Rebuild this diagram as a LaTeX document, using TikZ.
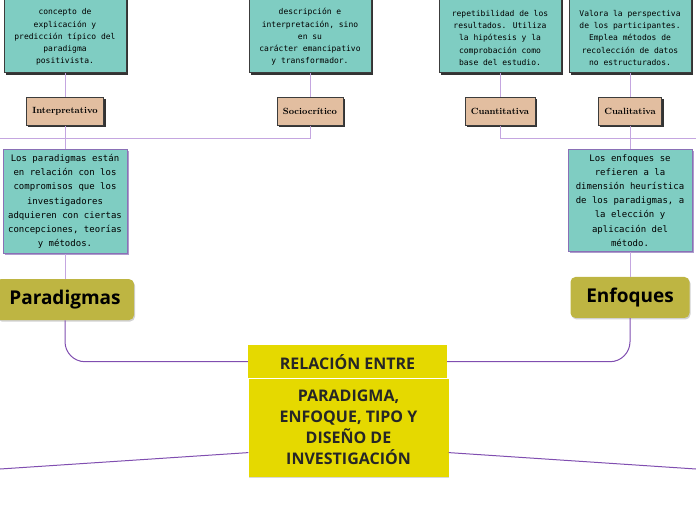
\documentclass[tikz,border=0pt]{standalone}
\usepackage{fontspec}
\usepackage{tikz}
\usetikzlibrary{positioning,shadows}
\newfontfamily\notefont{DejaVu Sans Mono}
\newfontfamily\headfont{Open Sans}
\definecolor{mTeal}{RGB}{127,205,194}
\definecolor{mTan}{RGB}{226,190,160}
\definecolor{mOlive}{RGB}{190,181,66}
\definecolor{mYellow}{RGB}{229,217,0}
\definecolor{mEdge}{RGB}{60,60,60}
\definecolor{mPurple}{RGB}{138,112,182}
\definecolor{mLine}{RGB}{196,166,224}
\definecolor{mHub}{RGB}{128,78,176}
% taller first line: the notes run on above the upper edge
\newcommand{\cuttop}{\rule{0pt}{26pt}}
\tikzset{
  box/.style={rectangle, fill=mTeal, line width=0.8pt, align=center},
  note/.style={box, draw=mEdge, minimum width=122pt, inner ysep=7pt,
               font=\notefont\fontsize{8}{12.3}\selectfont,
               drop shadow={shadow xshift=2pt, shadow yshift=-2pt,
                            fill=black!80, opacity=1}},
  desc/.style={box, draw=mPurple, minimum width=124pt, inner ysep=5pt,
               font=\notefont\fontsize{9}{14.2}\selectfont,
               drop shadow={shadow xshift=2pt, shadow yshift=-2pt,
                            fill=mPurple!70, opacity=1}},
  tag/.style={rectangle, draw=mEdge, fill=mTan, line width=0.8pt,
              minimum height=28pt, inner xsep=6pt,
              font=\bfseries\fontsize{9}{10}\selectfont,
              drop shadow={shadow xshift=2pt, shadow yshift=-2pt,
                           fill=black!80, opacity=1}},
  topic/.style={rectangle, rounded corners=5pt, fill=mOlive,
                minimum height=41pt, text height=13.6pt, text depth=4.4pt,
                font=\headfont\bfseries\fontsize{19}{21}\selectfont,
                drop shadow={shadow xshift=1pt, shadow yshift=-1.5pt,
                             fill=black!30, opacity=0.6}},
  hub/.style={rectangle, fill=mYellow, align=center, text=black!85,
              font=\headfont\bfseries\fontsize{16}{21}\selectfont},
  link/.style={draw=mLine, line width=1pt},
  hubline/.style={draw=mHub, line width=1pt},
}

\begin{document}
\begin{tikzpicture}[x=1pt, y=1pt]

  \useasboundingbox (0,0) rectangle (696,-520);
  \clip (0,0) rectangle (696,-520);

  % ===== top notes (cut off at the upper edge) ==========================
  \node[note, anchor=south] (tl) at (65,-73) {%
    \cuttop concepto de\\
    explicación y\\
    predicción típico del\\
    paradigma\\
    positivista.};
  \node[note, anchor=south] (tm) at (310,-73) {%
    \cuttop descripción e\\
    interpretación, sino\\
    en su\\
    carácter emancipativo\\
    y transformador.};
  \node[note, anchor=south] (tr) at (500,-73) {%
    \cuttop repetibilidad de los\\
    resultados. Utiliza\\
    la hipótesis y la\\
    comprobación como\\
    base del estudio.};
  \node[note, anchor=south] (tq) at (630,-73) {%
    \cuttop Valora la perspectiva\\
    de los participantes.\\
    Emplea métodos de\\
    recolección de datos\\
    no estructurados.};

  % ===== tags under the notes ===========================================
  \node[tag, below=24pt of tl] (interp) {Interpretativo};
  \node[tag, below=24pt of tm] (socio)  {Sociocrítico};
  \node[tag, below=24pt of tr] (cuanti) {Cuantitativa};
  \node[tag, below=24pt of tq] (cuali)  {Cualitativa};

  % ===== paradigmas / enfoques columns ==================================
  \node[desc, below=23pt of interp] (pdesc) {%
    Los paradigmas están\\
    en relación con los\\
    compromisos que los\\
    investigadores\\
    adquieren con ciertas\\
    concepciones, teorías\\
    y métodos.};
  \node[desc, below=23pt of cuali] (edesc) {%
    Los enfoques se\\
    refieren a la\\
    dimensión heurística\\
    de los paradigmas, a\\
    la elección y\\
    aplicación del\\
    método.};
  \node[topic, minimum width=138pt, below=25pt of pdesc] (para) {Paradigmas};
  \node[topic, minimum width=119pt, below=25pt of edesc] (enf)  {Enfoques};

  % ===== central topic ==================================================
  \node[hub, minimum width=199pt, minimum height=33pt, anchor=north]
       (reltop) at (347.5,-345) {RELACIÓN ENTRE};
  \node[hub, minimum width=200pt, minimum height=98pt, below=0pt of reltop,
        xshift=1pt,
        drop shadow={shadow xshift=0pt, shadow yshift=-1.5pt,
                     fill=black!30, opacity=0.5}] (relbot) {%
    PARADIGMA,\\ENFOQUE, TIPO Y\\DISEÑO DE\\INVESTIGACIÓN};

  % ===== connectors =====================================================
  \coordinate (busL) at (0,-138);
  \coordinate (busR) at (696,-138);
  \coordinate (outL) at (0,-469);
  \coordinate (outR) at (696,-469);

  \draw[link] (tl.south) -- (interp.north);
  \draw[link] (tm.south) -- (socio.north);
  \draw[link] (tr.south) -- (cuanti.north);
  \draw[link] (tq.south) -- (cuali.north);

  \draw[link] (socio.south) |- (busL);
  \draw[link] (cuanti.south) |- (busR);
  \draw[link] (interp.south) -- (pdesc.north);
  \draw[link] (cuali.south) -- (edesc.north);
  \draw[link] (pdesc.south) -- (para.north);
  \draw[link] (edesc.south) -- (enf.north);

  \draw[hubline, rounded corners=20pt] (para.south) |- (reltop.west);
  \draw[hubline, rounded corners=20pt] (enf.south) |- (reltop.east);
  \draw[hubline] ([yshift=-25pt]relbot.west) -- (outL);
  \draw[hubline] ([yshift=-25pt]relbot.east) -- (outR);

\end{tikzpicture}
\end{document}
